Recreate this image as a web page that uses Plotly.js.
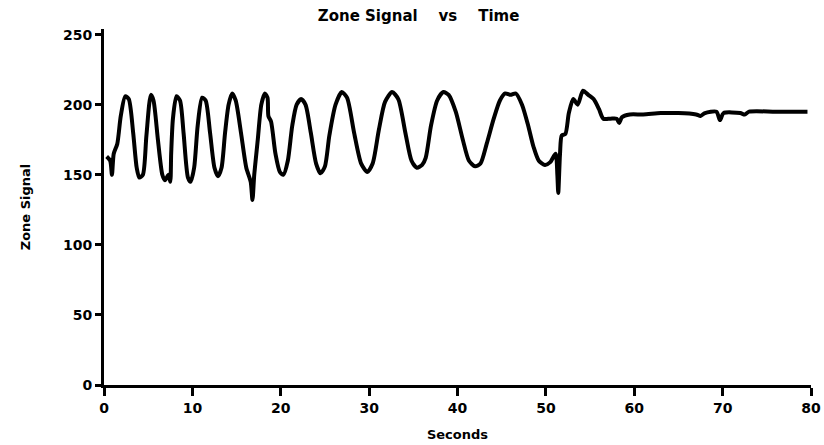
<!DOCTYPE html>
<html>
<head>
<meta charset="utf-8">
<script src="https://cdn.plot.ly/plotly-3.0.1.min.js"></script>
<style>html,body{margin:0;padding:0;background:#fff;}#chart{width:824px;height:445px;}</style>
</head>
<body>
<div id="chart"></div>
<script>
// Time (seconds)
const seconds = [
  0.3, 0.7, 0.9, 1.1, 1.5, 1.9, 2.4, 2.8, 3.3, 3.7, 4.0, 4.4, 4.8, 5.3, 5.6, 6.1, 6.6, 6.9, 7.3, 7.5,
  7.6, 7.8, 8.2, 8.6, 9.0, 9.5, 9.8, 10.2, 10.6, 11.1, 11.5, 12.0, 12.5, 12.9, 13.3, 13.7, 14.1, 14.5, 14.9, 15.5,
  16.1, 16.6, 16.8, 17.0, 17.4, 17.8, 18.2, 18.5, 18.6, 18.9, 19.4, 19.9, 20.3, 20.8, 21.3, 21.8, 22.3, 22.8, 23.4, 24.0,
  24.5, 25.0, 25.5, 26.2, 26.9, 27.5, 28.3, 29.1, 29.8, 30.4, 31.1, 31.8, 32.6, 33.3, 34.1, 34.8, 35.4, 36.0, 36.4, 37.0,
  37.7, 38.4, 39.0, 39.8, 40.6, 41.3, 42.0, 42.6, 43.3, 44.1, 44.8, 45.4, 46.0, 46.6, 47.3, 48.0, 48.6, 49.2, 49.9, 50.5,
  51.1, 51.3, 51.4, 51.6, 51.8, 52.2, 52.6, 53.1, 53.6, 54.2, 54.8, 55.4, 56.0, 56.5, 57.3, 58.0, 58.3, 58.6, 59.5, 61.0,
  63.0, 65.0, 67.0, 67.5, 68.0, 69.3, 69.7, 70.1, 72.0, 72.5, 73.0, 76.0, 79.6
];
// Zone signal values
const zoneSignal = [
  163, 160, 150, 165, 172, 192, 206, 204, 180, 155, 148, 150, 178, 207, 203, 175, 150, 146, 150, 145,
  165, 190, 206, 203, 180, 148, 145, 155, 185, 205, 203, 180, 155, 149, 155, 180, 200, 208, 203, 180,
  155, 145, 132, 150, 175, 200, 208, 205, 192, 188, 165, 152, 150, 160, 185, 200, 204, 200, 180, 158,
  151, 156, 178, 200, 209, 205, 180, 158, 152, 158, 182, 202, 209, 204, 180, 160, 155, 157, 162, 185,
  203, 209, 207, 195, 175, 160, 156, 158, 172, 190, 203, 208, 207, 208, 200, 185, 170, 160, 157, 159,
  165, 150, 137, 165, 178, 179, 194, 204, 200, 210, 207, 204, 197, 190, 190, 190, 187, 191, 193, 193,
  194, 194, 193, 192, 194, 195, 189, 194, 194, 193, 195, 195, 195
];
const xTicks = [0, 10, 20, 30, 40, 50, 60, 70, 80];
const yTicks = [0, 50, 100, 150, 200, 250];

const F = "DejaVu Sans, Arial, sans-serif";
const trace = {
  x: seconds, y: zoneSignal, type: 'scatter', mode: 'lines',
  line: {color: '#000', width: 4, shape: 'spline', smoothing: 0.7},
  hoverinfo: 'skip'
};
const layout = {
  width: 824, height: 445,
  margin: {l: 104, r: 13, t: 29, b: 60},
  paper_bgcolor: '#fff', plot_bgcolor: '#fff',
  showlegend: false,
  title: {text: 'Zone Signal\u00a0\u00a0\u00a0\u00a0vs\u00a0\u00a0\u00a0\u00a0Time', font: {family: F, size: 15, color: '#000', weight: 'bold'},
          x: 0.508, xref: 'container', xanchor: 'center', y: 0.965, yref: 'container', yanchor: 'middle'},
  xaxis: {
    range: [0, 80], tickvals: xTicks, ticktext: xTicks.map(String),
    showgrid: false, zeroline: false, showline: true, linecolor: '#000', linewidth: 3,
    ticks: 'outside', ticklen: 8, tickwidth: 3, tickcolor: '#000', ticklabeloverflow: 'allow',
    tickfont: {family: F, size: 14, color: '#000', weight: 'bold'},
    title: {text: 'Seconds', font: {family: F, size: 13, color: '#000', weight: 'bold'}, standoff: 16}
  },
  yaxis: {
    range: [0, 254], tickvals: yTicks, ticktext: yTicks.map(String),
    showgrid: false, zeroline: false, showline: true, linecolor: '#000', linewidth: 3,
    ticks: 'outside', ticklen: 6, tickwidth: 3, tickcolor: '#000', ticklabeloverflow: 'allow',
    tickfont: {family: F, size: 14, color: '#000', weight: 'bold'},
    title: {text: 'Zone Signal', font: {family: F, size: 13, color: '#000', weight: 'bold'}, standoff: 30}
  }
};
Plotly.newPlot('chart', [trace], layout, {displayModeBar: false, staticPlot: true});
</script>
</body>
</html>
